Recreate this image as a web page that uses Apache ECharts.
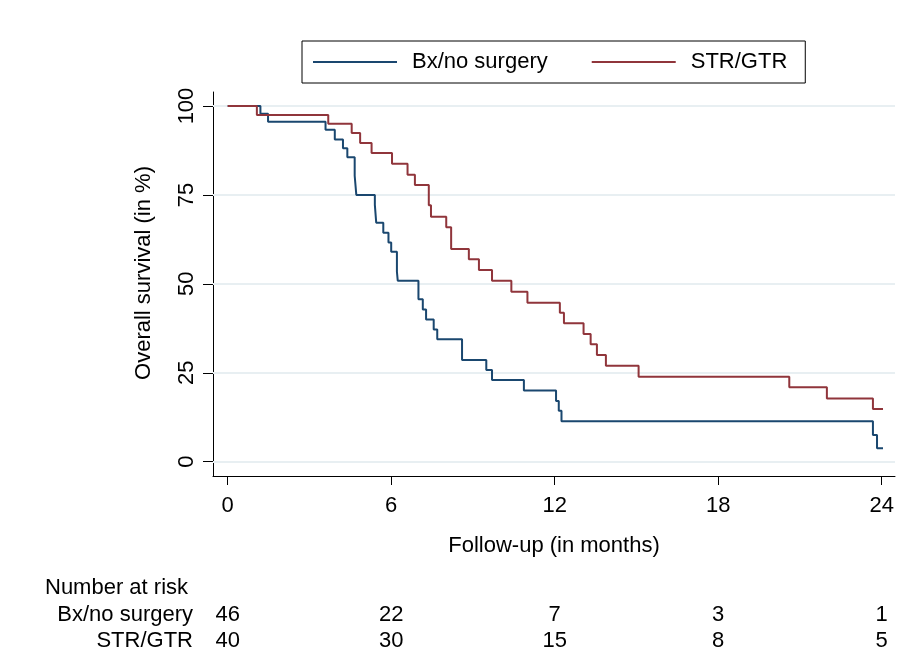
<!DOCTYPE html>
<html><head><meta charset="utf-8">
<script src="https://cdn.jsdelivr.net/npm/echarts@6/dist/echarts.min.js"></script>
<style>html,body{margin:0;padding:0;background:#fff}#c{width:909px;height:669px}</style>
</head><body><div id="c"></div>
<script>
const seriesNames = ['Bx/no surgery', 'STR/GTR'];
const bxTime = [0, 1.2, 1.48, 3.59, 3.93, 4.23, 4.39, 4.66, 4.72, 5.4, 5.45, 5.71, 5.9, 6.0, 6.21, 6.24, 7.0, 7.16, 7.28, 7.56, 7.69, 8.6, 9.49, 9.7, 10.87, 12.05, 12.15, 12.25, 23.68, 23.83, 24.05];
const bxSurv = [100, 97.8, 95.6, 93.3, 90.6, 88.1, 85.6, 80.4, 75.0, 72.2, 67.2, 64.4, 61.6, 59.0, 53.4, 50.9, 45.7, 42.8, 40.0, 37.2, 34.4, 28.6, 25.8, 23.0, 20.0, 17.1, 14.3, 11.4, 7.5, 3.8, 3.8];
const strTime = [0, 1.07, 3.69, 4.55, 4.86, 5.28, 6.03, 6.6, 6.87, 7.38, 7.46, 8.02, 8.2, 8.85, 9.22, 9.7, 10.41, 11.0, 12.19, 12.34, 13.06, 13.32, 13.55, 13.88, 15.08, 20.61, 21.99, 23.68, 24.05];
const strSurv = [100, 97.5, 95.0, 92.4, 89.6, 86.8, 83.8, 80.7, 77.8, 72.1, 68.9, 65.9, 59.8, 56.9, 53.9, 50.9, 47.8, 44.7, 41.9, 38.9, 35.9, 33.0, 30.0, 27.0, 23.9, 20.9, 17.8, 14.8, 14.8];
const xTicks = [0, 6, 12, 18, 24];
const yTicks = [0, 25, 50, 75, 100];
const riskTimes = [0, 6, 12, 18, 24];
const riskBx = [46, 22, 7, 3, 1];
const riskStr = [40, 30, 15, 8, 5];

const FONT = "'Liberation Sans', Arial, sans-serif";
const FS = 22;
const colors = ['#1a476f', '#90353b'];
const XMIN = -0.54, XMAX = 24.49, YMIN = -4.02, YMAX = 103.94;

const chart = echarts.init(document.getElementById('c'), null, {renderer: 'canvas'});
const txt = {fontFamily: FONT, fontSize: FS, color: '#000'};

chart.setOption({
  animation: false,
  backgroundColor: '#fff',
  textStyle: {fontFamily: FONT},
  title: {text: 'Number at risk', left: 45, top: 577, padding: 0,
    textStyle: Object.assign({fontWeight: 'normal'}, txt)},
  legend: {
    data: seriesNames, left: 302, top: 41, orient: 'horizontal',
    icon: 'rect', itemWidth: 84, itemHeight: 2, itemGap: 44,
    padding: [10, 18, 10, 11], borderColor: '#000', borderWidth: 1,
    textStyle: Object.assign({padding: [0, 0, 0, 10]}, txt)
  },
  grid: [
    {left: 213, right: 14, top: 92, bottom: 193},
    {left: 213, right: 14, top: 602, height: 52}
  ],
  xAxis: [
    {type: 'value', gridIndex: 0, min: XMIN, max: XMAX,
     axisLine: {show: true, onZero: false, lineStyle: {color: '#000', width: 1}},
     axisTick: {show: true, length: 9, customValues: xTicks, lineStyle: {color: '#000', width: 1}},
     axisLabel: Object.assign({customValues: xTicks, margin: 19}, txt),
     splitLine: {show: false},
     name: 'Follow-up (in months)', nameLocation: 'middle', nameGap: 59,
     nameTextStyle: txt},
    {type: 'value', gridIndex: 1, min: XMIN, max: XMAX, show: false}
  ],
  yAxis: [
    {type: 'value', gridIndex: 0, min: YMIN, max: YMAX,
     axisLine: {show: true, onZero: false, lineStyle: {color: '#000', width: 1}},
     axisTick: {show: true, length: 10, customValues: yTicks, lineStyle: {color: '#000', width: 1}},
     axisLabel: Object.assign({customValues: yTicks, rotate: 90, margin: 15}, txt),
     splitLine: {show: false},
     name: 'Overall survival (in %)', nameLocation: 'middle', nameGap: 58,
     nameTextStyle: Object.assign({padding: [0, 0, 0, 22]}, txt)},
    {type: 'category', gridIndex: 1, data: seriesNames, inverse: true,
     axisLine: {show: false}, axisTick: {show: false}, splitLine: {show: false},
     axisLabel: Object.assign({margin: 20, interval: 0}, txt)}
  ],
  series: [
    {type: 'line', name: 'gridlines', data: [], z: 1, silent: true,
     markLine: {silent: true, z: 1, symbol: ['none', 'none'], label: {show: false},
       lineStyle: {color: '#e8eff2', width: 2, type: 'solid'},
       data: yTicks.map(v => ({yAxis: v}))}},
    {type: 'line', name: seriesNames[0], step: 'end', symbol: 'none', z: 3,
     data: bxTime.map((t, i) => [t, bxSurv[i]]),
     lineStyle: {color: colors[0], width: 2}, itemStyle: {color: colors[0]}},
    {type: 'line', name: seriesNames[1], step: 'end', symbol: 'none', z: 3,
     data: strTime.map((t, i) => [t, strSurv[i]]),
     lineStyle: {color: colors[1], width: 2}, itemStyle: {color: colors[1]}},
    {type: 'scatter', name: 'risk1', xAxisIndex: 1, yAxisIndex: 1, symbolSize: 0,
     itemStyle: {color: '#000', opacity: 1},
     data: riskTimes.map((t, i) => [t, seriesNames[0], riskBx[i]]),
     label: Object.assign({show: true, position: 'inside', opacity: 1, formatter: p => String(p.value[2])}, txt)},
    {type: 'scatter', name: 'risk2', xAxisIndex: 1, yAxisIndex: 1, symbolSize: 0,
     itemStyle: {color: '#000', opacity: 1},
     data: riskTimes.map((t, i) => [t, seriesNames[1], riskStr[i]]),
     label: Object.assign({show: true, position: 'inside', opacity: 1, formatter: p => String(p.value[2])}, txt)}
  ]
});
</script>
</body></html>
